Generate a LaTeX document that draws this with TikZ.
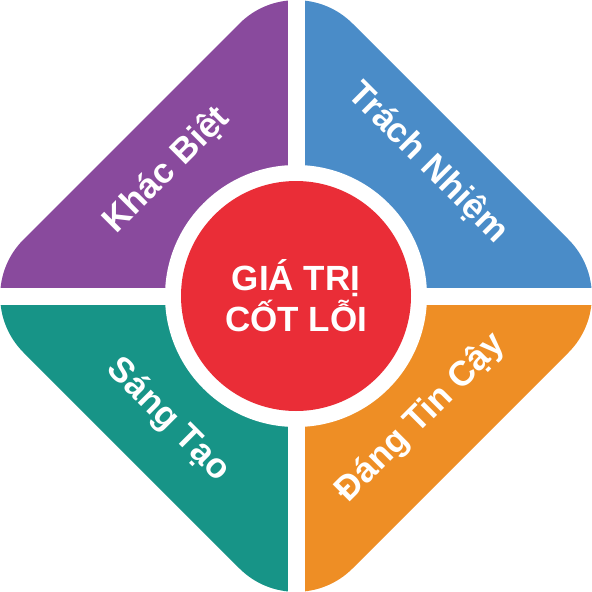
\documentclass[tikz,border=0pt]{standalone}
\usepackage{fontspec}
\setmainfont{Liberation Sans}
\definecolor{cpurple}{RGB}{137,74,157}
\definecolor{cblue}{RGB}{74,140,200}
\definecolor{cteal}{RGB}{23,148,135}
\definecolor{corange}{RGB}{238,142,37}
\definecolor{cred}{RGB}{234,45,55}
\tikzset{
  sidelabel/.style={text=white,font=\fontsize{35}{40}\selectfont\bfseries,inner sep=0pt},
  corelabel/.style={text=white,font=\fontsize{35}{41}\selectfont\bfseries,inner sep=0pt,align=center}
}
\newcommand{\diamondpath}{(296,33) -- (625,-296) -- (296,-625) -- (-33,-296) -- cycle}
\begin{document}
\begin{tikzpicture}[x=1pt,y=1pt]
\useasboundingbox (0,0) rectangle (592,-592);
% quadrants
\begin{scope}
  \clip (-50,50) rectangle (296,-296);
  \fill[cpurple,rounded corners=80pt] \diamondpath;
\end{scope}
\begin{scope}
  \clip (296,50) rectangle (650,-296);
  \fill[cblue,rounded corners=80pt] \diamondpath;
\end{scope}
\begin{scope}
  \clip (-50,-296) rectangle (296,-650);
  \fill[cteal,rounded corners=80pt] \diamondpath;
\end{scope}
\begin{scope}
  \clip (296,-296) rectangle (650,-650);
  \fill[corange,rounded corners=80pt] \diamondpath;
\end{scope}
% white gaps
\fill[white] (287.5,10) rectangle (304.5,-602);
\fill[white] (-10,-287.5) rectangle (602,-304.5);
% centre circles
\fill[white] (296,-296) circle (131);
\fill[cred] (296,-296) circle (115);
% labels
\node[corelabel] (core) at (296,-296) {GIÁ TRỊ\\CỐT LỖI};
\node[sidelabel,rotate=45] (khac) at (167,-170) {Khác Biệt};
\node[sidelabel,rotate=-45] (trach) at (428,-163) {Trách Nhiệm};
\node[sidelabel,rotate=-45] (sang) at (168,-420) {Sáng Tạo};
\node[sidelabel,rotate=45] (dang) at (421,-418) {Đáng Tin Cậy};
\end{tikzpicture}
\end{document}
